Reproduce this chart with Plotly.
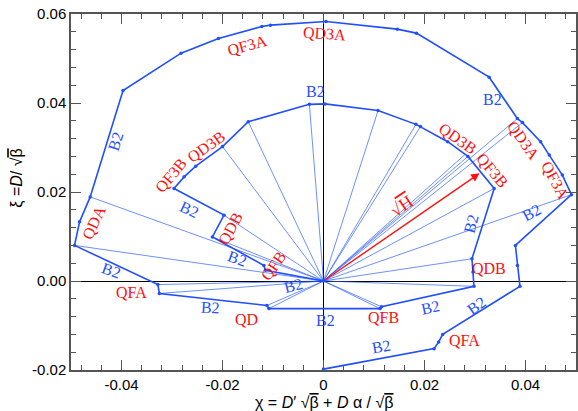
import plotly.graph_objects as go

# ---------------- data ----------------
# main lattice dispersion path (chi, xi)
path_x = [0.0000, 0.0219, 0.0228, 0.0236, 0.0389, 0.0384, 0.0380, 0.0491, 0.0473, 0.0447, 0.0430,
          0.0394, 0.0384, 0.0328, 0.0184, 0.0146, 0.0005, -0.0105, -0.0122, -0.0208, -0.0282,
          -0.0397, -0.0462, -0.0483, -0.0493, -0.0328, -0.0325, -0.0112, -0.0108, 0.0112,
          0.0115, 0.0298, 0.0296, 0.0294, 0.0338, 0.0286, 0.0246, 0.0192, 0.0183, 0.0108, 0.0003,
          -0.0028, -0.0149, -0.0200, -0.0253, -0.0276, -0.0296, -0.0197, -0.0220, -0.0118,
          -0.0115, 0.0000]
path_y = [-0.0198, -0.0152, -0.0137, -0.0120, -0.0012, 0.0035, 0.0080, 0.0194, 0.0238, 0.0283, 0.0313,
          0.0356, 0.0365, 0.0458, 0.0557, 0.0566, 0.0583, 0.0575, 0.0572, 0.0545, 0.0512,
          0.0428, 0.0189, 0.0133, 0.0080, -0.0008, -0.0028, -0.0055, -0.0062, -0.0062,
          -0.0058, -0.0012, 0.0020, 0.0050, 0.0208, 0.0280, 0.0313, 0.0347, 0.0352, 0.0383, 0.0398,
          0.0397, 0.0358, 0.0302, 0.0258, 0.0234, 0.0208, 0.0148, 0.0099, 0.0035,
          0.0024, 0.0000]

# thin radial lines from the origin to these points
ray_x = [-0.0462, -0.0493, -0.0328, -0.0325, -0.0112, -0.0108, 0.0112, 0.0115, 0.0298, 0.0294,
         0.0491, 0.0338, 0.0286, 0.0280, 0.0192, 0.0183, 0.0384, 0.0394, 0.0108, -0.0028,
         -0.0149, -0.0200, -0.0220, -0.0197]
ray_y = [0.0189, 0.0080, -0.0008, -0.0028, -0.0055, -0.0062, -0.0062, -0.0058, -0.0012, 0.0050,
         0.0194, 0.0208, 0.0280, 0.0284, 0.0347, 0.0352, 0.0365, 0.0356, 0.0383, 0.0397,
         0.0358, 0.0302, 0.0099, 0.0148]

# sqrt(H) vector
h_vec = (0.0309, 0.0242)

# element labels: text, x, y, angle
red_labels = [
    ("QF3A", -0.0152, 0.0530, -15), ("QD3A", 0.0002, 0.0557, 4),
    ("QD3B", 0.0266, 0.0321, 35), ("QD3A", 0.0396, 0.0316, 55),
    ("QF3A", 0.0459, 0.0226, 62), ("QF3B", 0.0335, 0.0249, 50),
    ("QDB", 0.0327, 0.0028, 0), ("QFA", 0.0280, -0.0134, 0),
    ("QFB", 0.0118, -0.0082, 0), ("QD", -0.0152, -0.0086, 0),
    ("QFA", -0.0380, -0.0026, 0), ("QDA", -0.0455, 0.0132, -65),
    ("QF3B", -0.0303, 0.0238, -50), ("QD3B", -0.0232, 0.0303, -35),
    ("QDB", -0.0185, 0.0119, -62), ("QFB", -0.0100, 0.0033, -55),
]
blue_labels = [
    ("B2", -0.0016, 0.0426, 0), ("B2", 0.0335, 0.0407, 0),
    ("B2", -0.0412, 0.0314, -72), ("B2", -0.0266, 0.0161, 25),
    ("B2", -0.0420, 0.0024, 20), ("B2", -0.0171, 0.0051, 20),
    ("B2", -0.0059, -0.0010, -15), ("B2", -0.0223, -0.0059, 3),
    ("B2", 0.0004, -0.0088, 0), ("B2", 0.0211, -0.0059, -12),
    ("B2", 0.0303, -0.0055, -35), ("B2", 0.0114, -0.0147, -10),
    ("B2", 0.0292, 0.0130, -75), ("B2", 0.0412, 0.0155, -28),
]

x_range = [-0.05, 0.05]
y_range = [-0.02, 0.06]
x_tickvals = [-0.04, -0.02, 0.0, 0.02, 0.04]
x_ticktext = ["-0.04", "-0.02", "0", "0.02", "0.04"]
y_tickvals = [-0.02, 0.0, 0.02, 0.04, 0.06]
y_ticktext = ["-0.02", "0.00", "0.02", "0.04", "0.06"]

# ---------------- figure ----------------
BLUE = "#1f4fff"
RED = "#ff1010"
AX = "#555555"
OVL = "<span style='text-decoration:overline'>%s</span>"

fig = go.Figure()

rx, ry = [], []
for px, py in zip(ray_x, ray_y):
    rx += [0, px, None]
    ry += [0, py, None]
fig.add_trace(go.Scatter(x=rx, y=ry, mode="lines",
                         line=dict(color="rgba(40,90,255,0.85)", width=0.8),
                         hoverinfo="skip", showlegend=False))

fig.add_trace(go.Scatter(x=path_x, y=path_y, mode="lines+markers",
                         line=dict(color=BLUE, width=1.6),
                         marker=dict(color=BLUE, size=3.5),
                         showlegend=False))

# invisible trace on mirrored axes (top/right ticks)
fig.add_trace(go.Scatter(x=[x_range[0]], y=[y_range[0]], xaxis="x2", yaxis="y2",
                         mode="markers", marker=dict(opacity=0), hoverinfo="skip",
                         showlegend=False))

anns = []
for t, x, y, a in red_labels:
    anns.append(dict(x=x, y=y, text=t, showarrow=False, textangle=a,
                     font=dict(family="Liberation Serif", size=16, color=RED)))
for t, x, y, a in blue_labels:
    anns.append(dict(x=x, y=y, text=t, showarrow=False, textangle=a,
                     font=dict(family="Liberation Serif", size=16, color=BLUE)))

# sqrt(H) arrow
anns.append(dict(x=h_vec[0], y=h_vec[1], ax=0, ay=0, axref="x", ayref="y",
                 xref="x", yref="y", text="", showarrow=True,
                 arrowhead=2, arrowsize=1.2, arrowwidth=1.4, arrowcolor=RED))
anns.append(dict(x=h_vec[0] * 0.5, y=h_vec[1] * 0.5 + 0.0048, text="√" + OVL % "H",
                 showarrow=False, textangle=-34,
                 font=dict(family="Liberation Serif", size=18, color=RED)))

# axis titles
anns.append(dict(xref="paper", yref="paper", x=0.5, y=-0.09, yanchor="middle",
                 text="χ = <i>D</i>′ √" + OVL % "β" + " + <i>D</i> α / √" + OVL % "β",
                 showarrow=False,
                 font=dict(family="Liberation Sans", size=16, color="black")))
anns.append(dict(xref="paper", yref="paper", x=-0.107, y=0.54, xanchor="center",
                 yanchor="middle", textangle=-90,
                 text="ξ =<i>D</i>/ √" + OVL % "β", showarrow=False,
                 font=dict(family="Liberation Sans", size=16, color="black")))

tick_common = dict(ticks="inside", ticklen=10, tickwidth=1.2, tickcolor=AX,
                   minor=dict(ticks="inside", ticklen=5, tickwidth=1, tickcolor=AX,
                              dtick=0.004, tick0=0))

fig.update_layout(
    xaxis=dict(range=x_range, tickvals=x_tickvals, ticktext=x_ticktext,
               showgrid=False, zeroline=True, zerolinecolor="black", zerolinewidth=1.4,
               showline=True, linecolor=AX, linewidth=1.5, mirror=True,
               tickfont=dict(family="Liberation Sans", size=15, color="black"),
               **tick_common),
    yaxis=dict(range=y_range, tickvals=y_tickvals, ticktext=y_ticktext,
               showgrid=False, zeroline=True, zerolinecolor="black", zerolinewidth=1.4,
               showline=True, linecolor=AX, linewidth=1.5, mirror=True,
               tickfont=dict(family="Liberation Sans", size=15, color="black"),
               **tick_common),
    xaxis2=dict(range=x_range, tickvals=x_tickvals, overlaying="x", side="top",
                showticklabels=False, showgrid=False, zeroline=False, showline=False,
                **tick_common),
    yaxis2=dict(range=y_range, tickvals=y_tickvals, overlaying="y", side="right",
                showticklabels=False, showgrid=False, zeroline=False, showline=False,
                **tick_common),
    width=578, height=411, margin=dict(l=71, r=0, t=14, b=41),
    plot_bgcolor="white", paper_bgcolor="white", annotations=anns,
)

fig.write_html("out.html")
